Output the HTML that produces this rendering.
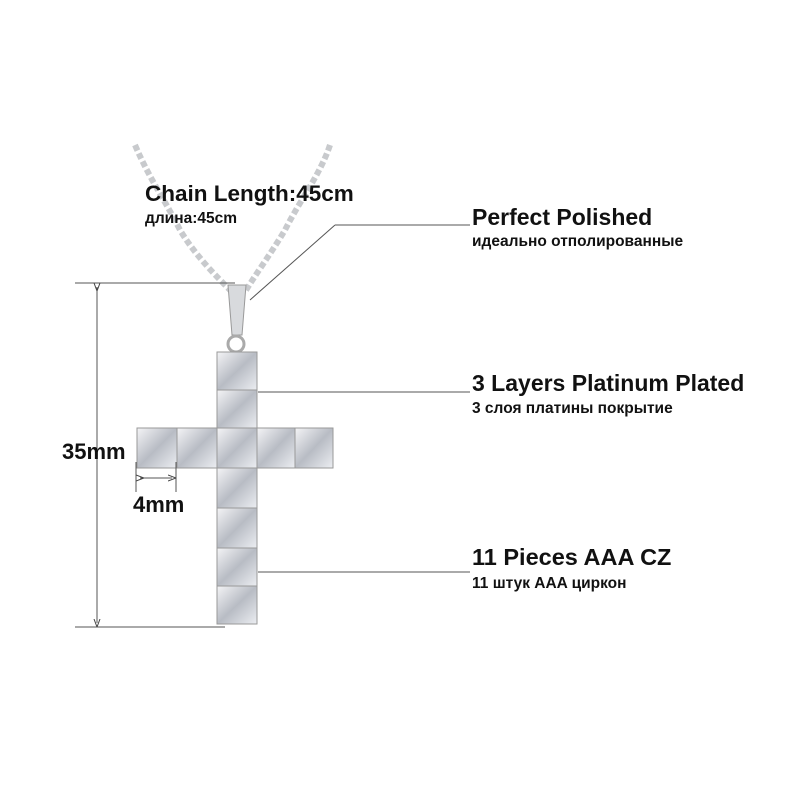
<!DOCTYPE html>
<html><head><meta charset="utf-8"><style>
body{margin:0;background:#fff;}
.t{position:absolute;font-family:"Liberation Sans",sans-serif;font-weight:bold;color:#111;white-space:nowrap;}
</style></head><body>
<div style="position:relative;width:800px;height:800px;overflow:hidden;background:#fff">
<svg width="800" height="800" style="position:absolute;left:0;top:0">
<defs>
<linearGradient id="g" x1="0" y1="0" x2="1" y2="1">
<stop offset="0" stop-color="#f4f4f6"/><stop offset="0.5" stop-color="#b8bcc4"/><stop offset="1" stop-color="#eceef2"/>
</linearGradient>
<marker id="a" markerWidth="8" markerHeight="8" refX="4" refY="4" orient="auto"><path d="M0,1 L8,4 L0,7" fill="none" stroke="#444" stroke-width="1"/></marker>
</defs>
<path d="M135,145 C150,180 165,200 180,230 C195,255 215,275 232,292" fill="none" stroke="#c8cacd" stroke-width="6" stroke-dasharray="6 3"/>
<path d="M330,145 C320,175 300,200 285,230 C270,255 255,275 245,292" fill="none" stroke="#c8cacd" stroke-width="6" stroke-dasharray="6 3"/>
<path d="M228,285 L246,285 L242,335 L232,335 Z" fill="#d8dadd" stroke="#999" stroke-width="1"/>
<circle cx="236" cy="344" r="8" fill="none" stroke="#aaa" stroke-width="3"/>
<g stroke="#999" stroke-width="1" fill="url(#g)">
<rect x="217" y="352" width="40" height="38"/>
<rect x="217" y="390" width="40" height="38"/>
<rect x="217" y="428" width="40" height="40"/>
<rect x="217" y="468" width="40" height="40"/>
<rect x="217" y="508" width="40" height="40"/>
<rect x="217" y="548" width="40" height="38"/>
<rect x="217" y="586" width="40" height="38"/>
<rect x="137" y="428" width="40" height="40"/>
<rect x="177" y="428" width="40" height="40"/>
<rect x="257" y="428" width="38" height="40"/>
<rect x="295" y="428" width="38" height="40"/>
</g>
<g stroke="#555" stroke-width="1" fill="none">
<line x1="335" y1="225" x2="470" y2="225"/>
<line x1="335" y1="225" x2="250" y2="300"/>
<line x1="258" y1="392" x2="470" y2="392"/>
<line x1="258" y1="572" x2="470" y2="572"/>
<line x1="75" y1="283" x2="235" y2="283"/>
<line x1="75" y1="627" x2="225" y2="627"/>
<line x1="97" y1="287" x2="97" y2="623" marker-start="url(#a)" marker-end="url(#a)"/>
<line x1="136" y1="462" x2="136" y2="492"/>
<line x1="176" y1="462" x2="176" y2="492"/>
<line x1="140" y1="478" x2="172" y2="478" marker-start="url(#a)" marker-end="url(#a)"/>
</g>
</svg>
<div class="t" style="left:145px;top:181px;font-size:22.5px">Chain Length:45cm</div>
<div class="t" style="left:145px;top:210px;font-size:15.5px">длина:45cm</div>
<div class="t" style="left:472px;top:204px;font-size:23px">Perfect Polished</div>
<div class="t" style="left:472px;top:233px;font-size:15.5px">идеально отполированные</div>
<div class="t" style="left:472px;top:370px;font-size:23px">3 Layers Platinum Plated</div>
<div class="t" style="left:472px;top:400px;font-size:15.5px">3 слоя платины покрытие</div>
<div class="t" style="left:472px;top:544px;font-size:23.5px">11 Pieces AAA CZ</div>
<div class="t" style="left:472px;top:575px;font-size:15.5px">11 штук AAA циркон</div>
<div class="t" style="left:62px;top:439px;font-size:22px">35mm</div>
<div class="t" style="left:133px;top:492px;font-size:22px">4mm</div>
</div>
</body></html>
